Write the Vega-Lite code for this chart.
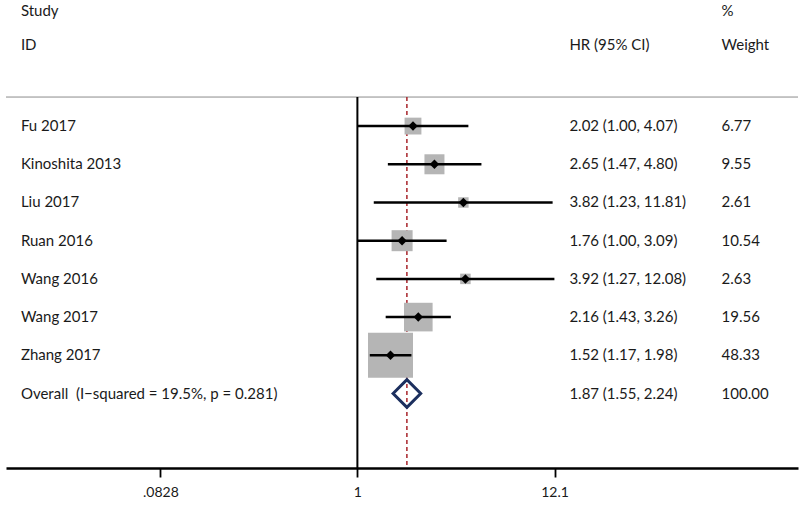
{
  "$schema": "https://vega.github.io/schema/vega-lite/v6.json",
  "width": 792,
  "height": 468,
  "padding": {"left": 5, "top": 0, "right": 3, "bottom": 0},
  "background": "white",
  "config": {
    "view": {"stroke": null},
    "font": "Lato",
    "text": {"font": "Lato", "fontSize": 15, "color": "#1a1a1a", "align": "left", "baseline": "middle"}
  },
  "datasets": {
    "studies": [
      {"study": "Fu 2017", "hr": 2.02, "lo": 1.00, "hi": 4.07, "weight": 6.77, "ci": "2.02 (1.00, 4.07)", "wt": "6.77", "row": 1, "overall": false},
      {"study": "Kinoshita 2013", "hr": 2.65, "lo": 1.47, "hi": 4.80, "weight": 9.55, "ci": "2.65 (1.47, 4.80)", "wt": "9.55", "row": 2, "overall": false},
      {"study": "Liu 2017", "hr": 3.82, "lo": 1.23, "hi": 11.81, "weight": 2.61, "ci": "3.82 (1.23, 11.81)", "wt": "2.61", "row": 3, "overall": false},
      {"study": "Ruan 2016", "hr": 1.76, "lo": 1.00, "hi": 3.09, "weight": 10.54, "ci": "1.76 (1.00, 3.09)", "wt": "10.54", "row": 4, "overall": false},
      {"study": "Wang 2016", "hr": 3.92, "lo": 1.27, "hi": 12.08, "weight": 2.63, "ci": "3.92 (1.27, 12.08)", "wt": "2.63", "row": 5, "overall": false},
      {"study": "Wang 2017", "hr": 2.16, "lo": 1.43, "hi": 3.26, "weight": 19.56, "ci": "2.16 (1.43, 3.26)", "wt": "19.56", "row": 6, "overall": false},
      {"study": "Zhang 2017", "hr": 1.52, "lo": 1.17, "hi": 1.98, "weight": 48.33, "ci": "1.52 (1.17, 1.98)", "wt": "48.33", "row": 7, "overall": false},
      {"study": "Overall\u00a0 (I−squared = 19.5%, p = 0.281)", "hr": 1.87, "lo": 1.55, "hi": 2.24, "weight": 100.00, "ci": "1.87 (1.55, 2.24)", "wt": "100.00", "row": 8, "overall": true}
    ],
    "single": [{"null_hr": 1}]
  },
  "data": {"name": "studies"},
  "layer": [
    {
      "data": {"name": "single"},
      "mark": {"type": "rule", "color": "#8c8c8c", "strokeWidth": 1},
      "encoding": {
        "y": {"datum": 0.24, "type": "quantitative", "scale": {"domain": [-2.3, 9.95], "reverse": true, "nice": false, "zero": false}, "axis": null}
      }
    },
    {
      "data": {"name": "single"},
      "mark": {"type": "rule", "color": "#000000", "strokeWidth": 2},
      "encoding": {
        "x": {"field": "null_hr", "type": "quantitative", "scale": {"type": "log", "domain": [0.01175, 263], "nice": false}, "axis": {"values": [0.0828, 1, 12.1], "labelExpr": "datum.value < 0.1 ? '.0828' : (datum.value < 2 ? '1' : '12.1')", "domainColor": "#000000", "domainWidth": 2.5, "tickColor": "#000000", "tickWidth": 1.8, "tickSize": 9, "labelFont": "Lato", "labelFontSize": 14, "labelColor": "#1a1a1a", "labelPadding": 8, "grid": false, "title": null}},
        "y": {"datum": 0.24, "type": "quantitative"},
        "y2": {"datum": 9.95}
      }
    },
    {
      "transform": [{"filter": "datum.overall"}],
      "mark": {"type": "rule", "color": "#a8232a", "strokeWidth": 1.5, "strokeDash": [4, 3]},
      "encoding": {
        "x": {"field": "hr", "type": "quantitative"},
        "y": {"datum": 0.24, "type": "quantitative"},
        "y2": {"datum": 9.95}
      }
    },
    {
      "transform": [{"filter": "!datum.overall"}],
      "mark": {"type": "point", "shape": "square", "filled": true, "color": "#b5b5b5", "opacity": 1},
      "encoding": {
        "x": {"field": "hr", "type": "quantitative"},
        "y": {"field": "row", "type": "quantitative"},
        "size": {"field": "weight", "type": "quantitative", "scale": {"type": "linear", "domain": [0, 48.33], "range": [0, 2025], "zero": true}, "legend": null}
      }
    },
    {
      "transform": [{"filter": "!datum.overall"}],
      "mark": {"type": "rule", "color": "#000000", "strokeWidth": 2.5},
      "encoding": {
        "x": {"field": "lo", "type": "quantitative"},
        "x2": {"field": "hi"},
        "y": {"field": "row", "type": "quantitative"}
      }
    },
    {
      "transform": [{"filter": "!datum.overall"}],
      "mark": {"type": "point", "shape": "diamond", "filled": true, "color": "#000000", "size": 90, "opacity": 1},
      "encoding": {
        "x": {"field": "hr", "type": "quantitative"},
        "y": {"field": "row", "type": "quantitative"}
      }
    },
    {
      "transform": [{"filter": "datum.overall"}],
      "mark": {"type": "point", "shape": "diamond", "filled": false, "color": "#1c2f5e", "strokeWidth": 3, "size": 760, "opacity": 1},
      "encoding": {
        "x": {"field": "hr", "type": "quantitative"},
        "y": {"field": "row", "type": "quantitative"}
      }
    },
    {
      "mark": {"type": "text"},
      "encoding": {
        "x": {"datum": 0.01419, "type": "quantitative"},
        "y": {"field": "row", "type": "quantitative"},
        "text": {"field": "study"}
      }
    },
    {
      "mark": {"type": "text"},
      "encoding": {
        "x": {"datum": 14.6, "type": "quantitative"},
        "y": {"field": "row", "type": "quantitative"},
        "text": {"field": "ci"}
      }
    },
    {
      "mark": {"type": "text"},
      "encoding": {
        "x": {"datum": 100, "type": "quantitative"},
        "y": {"field": "row", "type": "quantitative"},
        "text": {"field": "wt"}
      }
    },
    {
      "data": {"values": [{"label": "Study"}]},
      "mark": {"type": "text"},
      "encoding": {
        "x": {"datum": 0.01419, "type": "quantitative"},
        "y": {"datum": -2.0, "type": "quantitative"},
        "text": {"field": "label"}
      }
    },
    {
      "data": {"values": [{"label": "ID"}]},
      "mark": {"type": "text"},
      "encoding": {
        "x": {"datum": 0.01419, "type": "quantitative"},
        "y": {"datum": -1.13, "type": "quantitative"},
        "text": {"field": "label"}
      }
    },
    {
      "data": {"values": [{"label": "HR (95% CI)"}]},
      "mark": {"type": "text"},
      "encoding": {
        "x": {"datum": 14.6, "type": "quantitative"},
        "y": {"datum": -1.13, "type": "quantitative"},
        "text": {"field": "label"}
      }
    },
    {
      "data": {"values": [{"label": "%"}]},
      "mark": {"type": "text"},
      "encoding": {
        "x": {"datum": 100, "type": "quantitative"},
        "y": {"datum": -2.0, "type": "quantitative"},
        "text": {"field": "label"}
      }
    },
    {
      "data": {"values": [{"label": "Weight"}]},
      "mark": {"type": "text"},
      "encoding": {
        "x": {"datum": 100, "type": "quantitative"},
        "y": {"datum": -1.13, "type": "quantitative"},
        "text": {"field": "label"}
      }
    }
  ]
}
